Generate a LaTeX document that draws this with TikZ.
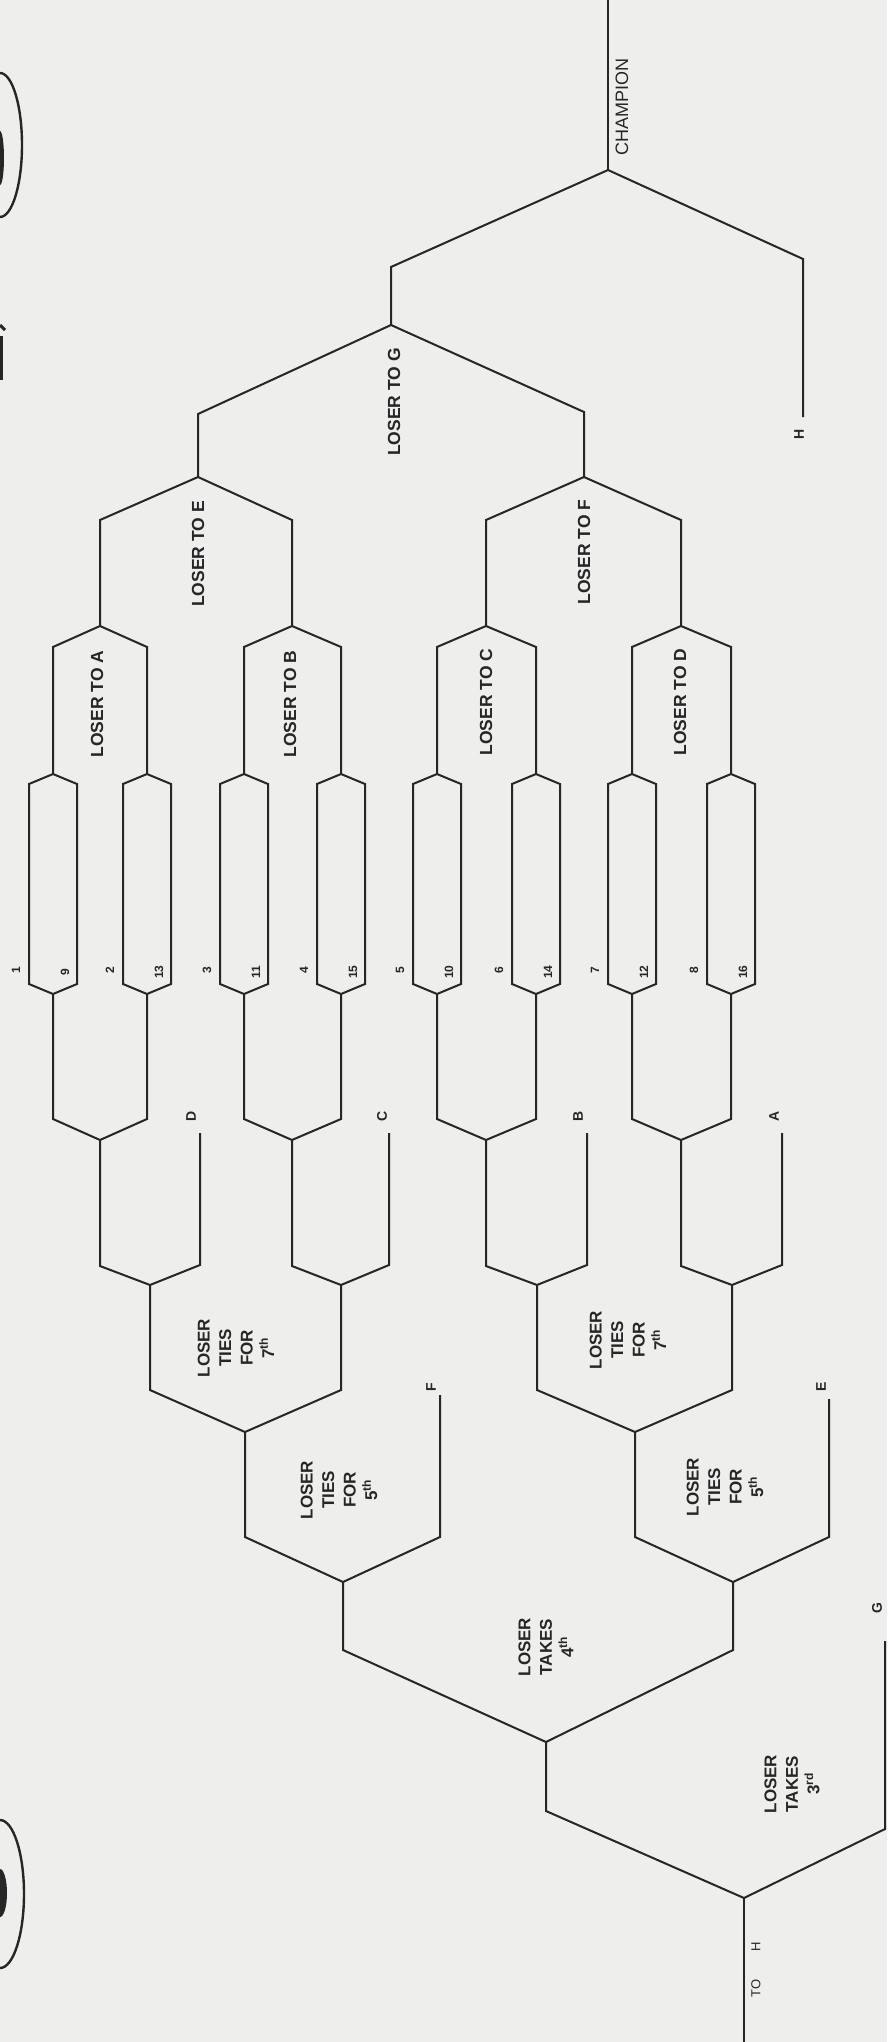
\documentclass[tikz,border=0pt]{standalone}
\usepackage{fontspec}
\setmainfont{Liberation Sans}
\usepackage{tikz}

\definecolor{paper}{RGB}{238,238,236}
\definecolor{ink}{RGB}{38,38,38}

\tikzset{
  lbl/.style={rotate=90, inner sep=0pt, font=\bfseries\fontsize{17.5}{21}\selectfont},
  stack/.style={rotate=90, inner sep=0pt, align=center, font=\bfseries\fontsize{17}{21.5}\selectfont},
  tag/.style={rotate=90, inner sep=0pt, font=\bfseries\fontsize{14}{16}\selectfont},
  seed/.style={rotate=90, inner sep=0pt, font=\bfseries\fontsize{12}{14}\selectfont},
  champ/.style={rotate=90, inner sep=0pt, font=\fontsize{18}{20}\selectfont},
}

\begin{document}
\begin{tikzpicture}[x=1pt,y=-1pt,line width=2pt,color=ink,line join=miter]
  % Nền
  \fill[paper] (0,0) rectangle (887,2042);
  \useasboundingbox (0,0) rectangle (887,2042);
  % Lỗ bấm giấy
  \draw[line width=2.4pt] (0,145) ellipse [x radius=22, y radius=72];
  \fill (0,158) ellipse [x radius=4, y radius=27];
  \draw[line width=3pt] (0,325) -- (5,330);
  \draw[line width=3pt] (1,336) -- (1,380);
  \draw[line width=2.4pt] (0,1894) ellipse [x radius=24, y radius=74];
  \fill (0,1893) ellipse [x radius=7, y radius=24];
  % Nhánh thắng
  \coordinate (Top) at (608,0);
  \coordinate (Ch) at (608,170);
  \coordinate (Hend) at (803,417);
  \coordinate (G) at (391,325);
  \coordinate (E) at (198,477);
  \coordinate (F) at (584,477);
  \coordinate (A) at (100,626);
  \coordinate (B) at (292,626);
  \coordinate (C) at (486,626);
  \coordinate (D) at (681,626);
  % Các ô hạt giống
  \foreach \c [count=\i] in {53,147,244,341,437,536,632,731} {
    \coordinate (h\i) at (\c,774);
    \coordinate (b\i) at (\c,994);
    \draw (h\i) -- ++(24,10) -- ++(0,200) -- (b\i) -- ++(-24,-10) -- ++(0,-200) -- cycle;
  }
  % Nhánh thua
  \coordinate (K1) at (100,1140);
  \coordinate (K2) at (292,1140);
  \coordinate (K3) at (486,1140);
  \coordinate (K4) at (681,1140);
  \coordinate (dT) at (200,1133);
  \coordinate (cT) at (389,1133);
  \coordinate (bT) at (587,1133);
  \coordinate (aT) at (782,1133);
  \coordinate (L1) at (150,1285);
  \coordinate (L2) at (341,1285);
  \coordinate (L3) at (537,1285);
  \coordinate (L4) at (732,1285);
  \coordinate (M1) at (245,1432);
  \coordinate (M2) at (635,1432);
  \coordinate (fT) at (440,1395);
  \coordinate (eT) at (829,1399);
  \coordinate (N1) at (343,1582);
  \coordinate (N2) at (733,1582);
  \coordinate (P) at (546,1742);
  \coordinate (gT) at (885,1641);
  \coordinate (Q) at (744,1898);
  \coordinate (Bot) at (744,2042);
  % Đường nối phía trên
  \draw (Top) -- (Ch);
  \draw (G) -- ++(0,-58) -- (Ch) -- ++(195,89) -- (Hend);
  \draw (E) -- ++(0,-63) -- (G) -- ++(193,87) -- (F);
  \draw (A) -- ++(0,-106) -- (E) -- ++(94,43) -- (B);
  \draw (C) -- ++(0,-106) -- (F) -- ++(97,43) -- (D);
  \draw (h1) -- ++(0,-127) -- (A) -- ++(47,21) -- (h2);
  \draw (h3) -- ++(0,-127) -- (B) -- ++(49,21) -- (h4);
  \draw (h5) -- ++(0,-127) -- (C) -- ++(50,21) -- (h6);
  \draw (h7) -- ++(0,-127) -- (D) -- ++(50,21) -- (h8);
  % Đường nối phía dưới
  \draw (b1) -- ++(0,125) -- (K1) -- ++(47,-21) -- (b2);
  \draw (b3) -- ++(0,125) -- (K2) -- ++(49,-21) -- (b4);
  \draw (b5) -- ++(0,125) -- (K3) -- ++(50,-21) -- (b6);
  \draw (b7) -- ++(0,125) -- (K4) -- ++(50,-21) -- (b8);
  \draw (K1) -- ++(0,126) -- (L1) -- ++(50,-20) -- (dT);
  \draw (K2) -- ++(0,126) -- (L2) -- ++(48,-20) -- (cT);
  \draw (K3) -- ++(0,126) -- (L3) -- ++(50,-20) -- (bT);
  \draw (K4) -- ++(0,126) -- (L4) -- ++(50,-20) -- (aT);
  \draw (L1) -- ++(0,105) -- (M1) -- ++(96,-42) -- (L2);
  \draw (L3) -- ++(0,105) -- (M2) -- ++(97,-42) -- (L4);
  \draw (M1) -- ++(0,105) -- (N1) -- ++(97,-45) -- (fT);
  \draw (M2) -- ++(0,105) -- (N2) -- ++(96,-45) -- (eT);
  \draw (N1) -- ++(0,68) -- (P) -- ++(187,-92) -- (N2);
  \draw (P) -- ++(0,69) -- (Q) -- ++(141,-69) -- (gT);
  \draw (Q) -- (Bot);
  % Số hạt giống
  \foreach \c/\o/\n in {53/1/9,147/2/13,244/3/11,341/4/15,437/5/10,536/6/14,632/7/12,731/8/16} {
    \node[seed] (s\o) at (\c-37,970) {\o};
    \node[seed] (s\n) at (\c+12,972) {\n};
  }
  % Nhãn
  \node[champ] (lCh) at (622,107) {CHAMPION};
  \node[tag] (tH) at (799,434) {H};
  \node[lbl] (lG) at (394,402) {LOSER TO G};
  \node[lbl] (lE) at (198,554) {LOSER TO E};
  \node[lbl] (lF) at (584,552) {LOSER TO F};
  \node[lbl] (lA) at (97,704) {LOSER TO A};
  \node[lbl] (lB) at (290,704) {LOSER TO B};
  \node[lbl] (lC) at (486,702) {LOSER TO C};
  \node[lbl] (lD) at (680,702) {LOSER TO D};
  \node[tag] (tD) at (191,1116) {D};
  \node[tag] (tC) at (382,1116) {C};
  \node[tag] (tB) at (578,1116) {B};
  \node[tag] (tA) at (774,1116) {A};
  \node[tag] (tF) at (431,1387) {F};
  \node[tag] (tE) at (821,1387) {E};
  \node[tag] (tG) at (877,1608) {G};
  \node[stack] (s7a) at (236,1348) {LOSER\\TIES\\FOR\\7\textsuperscript{th}};
  \node[stack] (s7b) at (628,1340) {LOSER\\TIES\\FOR\\7\textsuperscript{th}};
  \node[stack] (s5a) at (339,1490) {LOSER\\TIES\\FOR\\5\textsuperscript{th}};
  \node[stack] (s5b) at (725,1487) {LOSER\\TIES\\FOR\\5\textsuperscript{th}};
  \node[stack] (s4) at (546,1647) {LOSER\\TAKES\\4\textsuperscript{th}};
  \node[stack] (s3) at (792,1784) {LOSER\\TAKES\\3\textsuperscript{rd}};
  \node[rotate=90, inner sep=0pt, font=\fontsize{13}{15}\selectfont] (toH) at (756,1970) {TO\hspace{28pt}H};
\end{tikzpicture}
\end{document}
